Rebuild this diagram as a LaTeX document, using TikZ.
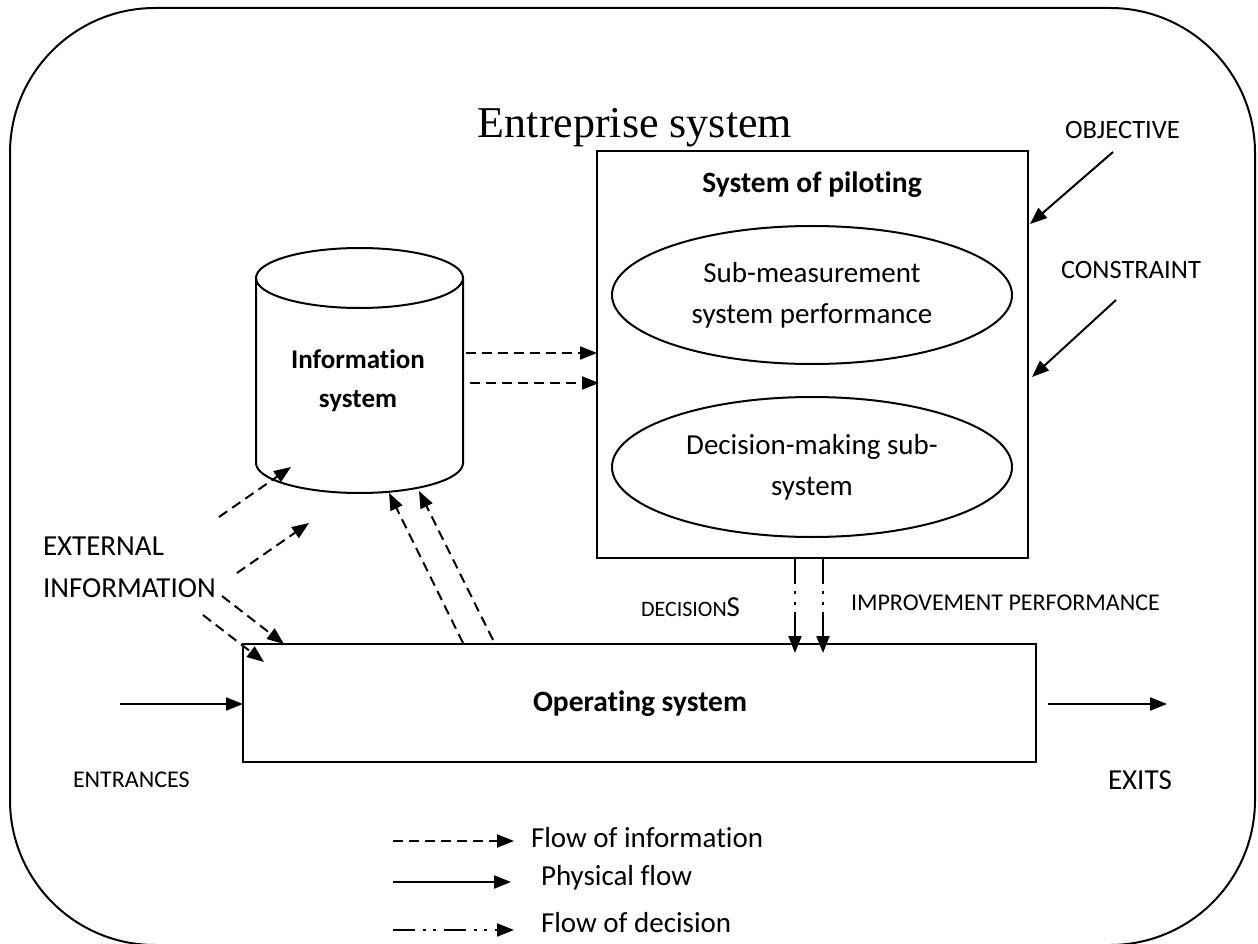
\documentclass[tikz,border=0pt]{standalone}
\usepackage{fontspec}
\setmainfont{Carlito}[Ligatures=NoCommon]
\newfontfamily\titlefont{Liberation Serif}
\usetikzlibrary{arrows.meta,shapes.geometric}
\begin{document}
\begin{tikzpicture}[x=1pt,y=-1pt,line width=2pt,
  txt/.style={font=\fontsize{29}{42}\selectfont, inner sep=0pt, align=center},
  smalltxt/.style={font=\fontsize{24}{30}\selectfont, inner sep=0pt},
  midtxt/.style={font=\fontsize{26.5}{32}\selectfont, inner sep=0pt},
  boldtxt/.style={font=\bfseries\fontsize{27}{39}\selectfont, inner sep=0pt, align=center},
  tip/.style={-{Triangle[length=17pt,width=13pt]}},
  infoflow/.style={tip, dash pattern=on 10pt off 6pt},
  physflow/.style={tip},
  decflow/.style={tip, dash pattern=on 26pt off 7pt on 3pt off 8pt on 3pt off 7pt},
  ell/.style={draw, ellipse, minimum width=400pt, inner sep=0pt, font=\fontsize{29}{41}\selectfont, align=center}
]
\useasboundingbox (0,0) rectangle (1258,944);
% outer enterprise frame
\draw[rounded corners=145pt] (10,8) rectangle (1255,945);
\node[font=\titlefont\fontsize{44}{50}\selectfont, inner sep=0pt] (title) at (635,128) {Entreprise system};

% system of piloting
\node[draw, minimum width=431pt, minimum height=407pt, inner sep=0pt] (pilot) at (812.5,354.5) {};
\node[boldtxt, font=\bfseries\fontsize{29.5}{39}\selectfont] (pilottitle) at (812,185) {System of piloting};
\node[ell, minimum height=138pt] (sub1) at (812,295) {Sub-measurement\\system performance};
\node[ell, minimum height=140pt] (sub2) at (812,467) {Decision-making sub-\\system};

% information system cylinder
\draw (359.5,278) ellipse [x radius=103.5, y radius=30];
\draw (256,278) -- (256,463) arc[start angle=180, end angle=0, x radius=103.5, y radius=30] -- (463,278);
\node[boldtxt] (info) at (358,381) {Information\\system};

% operating system
\node[draw, minimum width=793pt, minimum height=118pt, inner sep=0pt] (oper) at (639.5,703) {};
\node[font=\bfseries\fontsize{29.5}{33}\selectfont, inner sep=0pt] (opertext) at (640,704) {Operating system};

% coordinates for connector ends
\coordinate (i1s) at (466,353); \coordinate (i1e) at (597,353);
\coordinate (i2s) at (470,383); \coordinate (i2e) at (599,383);
\coordinate (e1s) at (219,517); \coordinate (e1e) at (291,467);
\coordinate (e2s) at (237,573); \coordinate (e2e) at (309,523);
\coordinate (e3s) at (222,596); \coordinate (e3e) at (284,644);
\coordinate (e4s) at (203,615); \coordinate (e4e) at (264,662);
\coordinate (u1s) at (463,643); \coordinate (u1e) at (389,493);
\coordinate (u2s) at (493,640); \coordinate (u2e) at (419,491);
\coordinate (d1s) at (795,558); \coordinate (d1e) at (795,653);
\coordinate (d2s) at (823,558); \coordinate (d2e) at (823,653);
\coordinate (obs) at (1113,152); \coordinate (obe) at (1030,224);
\coordinate (cos) at (1116,300); \coordinate (coe) at (1032,377);
\coordinate (ens) at (120,704); \coordinate (ene) at (243,704);
\coordinate (exs) at (1048,704); \coordinate (exe) at (1167,704);

\draw[infoflow] (i1s) -- (i1e);
\draw[infoflow] (i2s) -- (i2e);
\draw[infoflow] (e1s) -- (e1e);
\draw[infoflow] (e2s) -- (e2e);
\draw[infoflow] (e3s) -- (e3e);
\draw[infoflow] (e4s) -- (e4e);
\draw[infoflow] (u1s) -- (u1e);
\draw[infoflow] (u2s) -- (u2e);
\draw[decflow] (d1s) -- (d1e);
\draw[decflow] (d2s) -- (d2e);
\draw[physflow] (obs) -- (obe);
\draw[physflow] (cos) -- (coe);
\draw[physflow] (ens) -- (ene);
\draw[physflow] (exs) -- (exe);

% labels
\node[midtxt, anchor=west] (objective) at (1064,130) {OBJECTIVE};
\node[midtxt, anchor=west] (constraint) at (1060,270) {CONSTRAINT};
\node[txt, anchor=west, align=left] (ext) at (42,567) {EXTERNAL\\INFORMATION};
\node[smalltxt, anchor=west] (entr) at (72,780) {ENTRANCES};
\node[txt, anchor=west] (exits) at (1107,780) {EXITS};
\node[anchor=west, inner sep=0pt] (decis) at (640,607) {\fontsize{22}{26}\selectfont DECISION\fontsize{29}{30}\selectfont S};
\node[smalltxt, anchor=west] (improv) at (850,603) {IMPROVEMENT PERFORMANCE};

% legend
\coordinate (l1s) at (393,841); \coordinate (l1e) at (514,841);
\coordinate (l2s) at (393,882); \coordinate (l2e) at (511,882);
\coordinate (l3s) at (393,930); \coordinate (l3e) at (514,930);
\draw[infoflow] (l1s) -- (l1e);
\draw[physflow] (l2s) -- (l2e);
\draw[decflow, dash pattern=on 22pt off 8pt on 3pt off 7pt on 3pt off 8pt] (l3s) -- (l3e);
\node[txt, anchor=west] (leg1) at (530,838) {Flow of information};
\node[txt, anchor=west] (leg2) at (540,878) {Physical flow};
\node[txt, anchor=west] (leg3) at (540,923) {Flow of decision};
\end{tikzpicture}
\end{document}
